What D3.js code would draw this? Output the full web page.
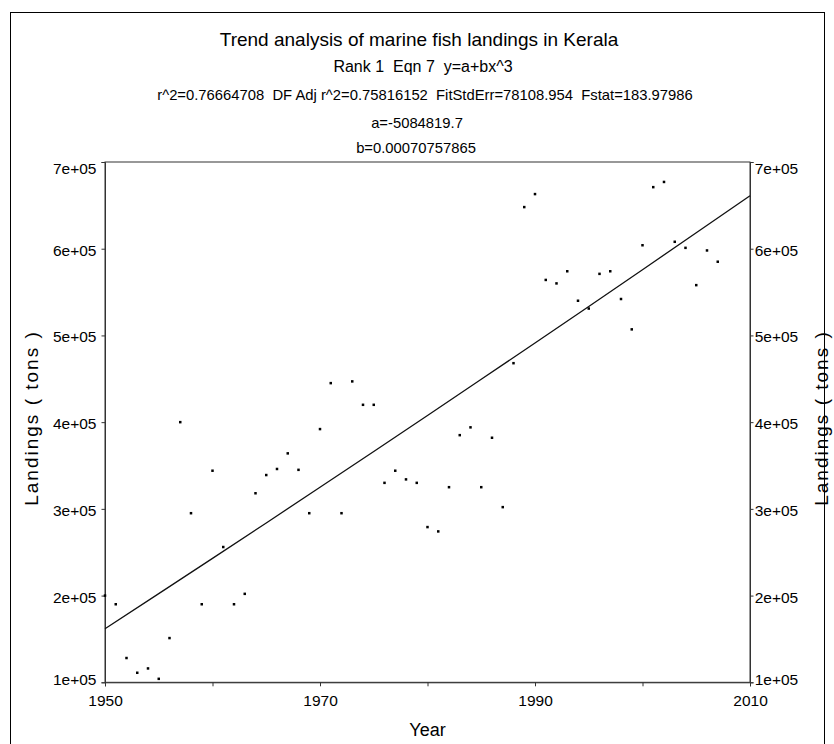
<!DOCTYPE html>
<html>
<head>
<meta charset="utf-8">
<script src="https://cdn.jsdelivr.net/npm/d3@7"></script>
<style>
  html, body { margin: 0; padding: 0; background: #fff; }
  svg { display: block; font-family: "Liberation Sans", Arial, sans-serif; }
  svg text { white-space: pre; }
</style>
</head>
<body>
<svg id="chart" width="834" height="744"></svg>
<script>
// ---------- data ----------
const years = [1950,1951,1952,1953,1954,1955,1956,1957,1958,1959,
               1960,1961,1962,1963,1964,1965,1966,1967,1968,1969,
               1970,1971,1972,1973,1974,1975,1976,1977,1978,1979,
               1980,1981,1982,1983,1984,1985,1986,1987,1988,1989,
               1990,1991,1992,1993,1994,1995,1996,1997,1998,1999,
               2000,2001,2002,2003,2004,2005,2006,2007];
const landings = [200000,190000,128000,111000,116000,104000,151000,400000,295000,190000,
                  344000,256000,190000,202000,318000,339000,346000,364000,345000,295000,
                  392000,445000,295000,447000,420000,420000,330000,344000,334000,330000,
                  279000,274000,325000,385000,394000,325000,382000,302000,468000,648000,
                  663000,564000,560000,574000,540000,531000,571000,574000,542000,507000,
                  604000,671000,677000,608000,601000,558000,598000,585000];
// fitted model y = a + b*x^3 (parameters shown in the subtitle)
const fitA = -5084819.7;
const fitB = 0.00070757865;
const fitYears = [1950,1955,1960,1965,1970,1975,1980,1985,1990,1995,2000,2005,2010];

const xTicks = [1950,1960,1970,1980,1990,2000,2010];
const xTickLabels = {1950:"1950",1970:"1970",1990:"1990",2010:"2010"};
const yTicks = [100000,200000,300000,400000,500000,600000,700000];
const yTickLabels = ["1e+05","2e+05","3e+05","4e+05","5e+05","6e+05","7e+05"];

const titleLines = [
  "Trend analysis of marine fish landings in Kerala",
  "Rank 1  Eqn 7  y=a+bx^3",
  "r^2=0.76664708  DF Adj r^2=0.75816152  FitStdErr=78108.954  Fstat=183.97986",
  "a=-5084819.7",
  "b=0.00070757865"
];
const xLabel = "Year";
const yLabel = "Landings ( tons )";

// ---------- layout ----------
const svg = d3.select("#chart");
const plot = {left: 105, right: 750, top: 162, bottom: 682.3};

const x = d3.scaleLinear().domain([1950, 2010]).range([plot.left, plot.right]);
const y = d3.scaleLinear().domain([100000, 700000]).range([plot.bottom, plot.top]);

// outer frame
svg.append("rect")
  .attr("x", 10.5).attr("y", 12.5)
  .attr("width", 814).attr("height", 760)
  .attr("fill", "none").attr("stroke", "#000").attr("stroke-width", 1);

// titles
const titleSpec = [
  {size: 19,   x: 419, y: 45.7},
  {size: 16,   x: 423, y: 72.3},
  {size: 14.8, x: 425, y: 100},
  {size: 14.8, x: 417, y: 128.3},
  {size: 14.8, x: 416, y: 153.3}
];
titleLines.forEach((t, i) => {
  svg.append("text")
    .attr("x", titleSpec[i].x).attr("y", titleSpec[i].y)
    .attr("text-anchor", "middle")
    .attr("font-size", titleSpec[i].size)
    .attr("fill", "#000")
    .attr("xml:space", "preserve")
    .text(t);
});

// plot box
svg.append("rect")
  .attr("x", plot.left).attr("y", plot.top)
  .attr("width", plot.right - plot.left).attr("height", plot.bottom - plot.top)
  .attr("fill", "none").attr("stroke", "#333").attr("stroke-width", 1);

const fontTick = 15.5;

// left axis
const yAxisL = d3.axisLeft(y).tickValues(yTicks)
  .tickFormat((d, i) => yTickLabels[i]).tickSize(3.5).tickPadding(5);
const gL = svg.append("g").attr("transform", `translate(${plot.left},0)`).call(yAxisL);
// right axis
const yAxisR = d3.axisRight(y).tickValues(yTicks)
  .tickFormat((d, i) => yTickLabels[i]).tickSize(3.5).tickPadding(1.2);
const gR = svg.append("g").attr("transform", `translate(${plot.right},0)`).call(yAxisR);
// bottom axis
const xAxis = d3.axisBottom(x).tickValues(xTicks)
  .tickFormat(d => xTickLabels[d] || "").tickSize(4).tickPadding(8.5);
const gB = svg.append("g").attr("transform", `translate(0,${plot.bottom})`).call(xAxis);

[gL, gR, gB].forEach(g => {
  g.select(".domain").attr("stroke", "#333");
  g.selectAll(".tick line").attr("stroke", "#333");
  g.selectAll(".tick text")
    .attr("font-family", "Liberation Sans, Arial, sans-serif")
    .attr("font-size", fontTick).attr("fill", "#000");
});
[gL, gR].forEach(g => {
  g.selectAll(".tick text").attr("dy", d => d === 700000 ? "0.75em" : (d === 100000 ? "0.15em" : "0.42em"));
});

// axis titles
svg.append("text")
  .attr("x", (plot.left + plot.right) / 2).attr("y", 736)
  .attr("text-anchor", "middle").attr("font-size", 18).attr("fill", "#000")
  .text(xLabel);
svg.append("text")
  .attr("transform", `translate(38,418) rotate(-90)`)
  .attr("text-anchor", "middle").attr("font-size", 19).attr("letter-spacing", 2)
  .attr("fill", "#000")
  .text(yLabel);
svg.append("text")
  .attr("transform", `translate(828,418) rotate(-90)`)
  .attr("text-anchor", "middle").attr("font-size", 19).attr("letter-spacing", 2)
  .attr("fill", "#000")
  .text(yLabel);

// fitted curve
const fitLine = d3.line()
  .x(d => x(d))
  .y(d => y(fitA + fitB * d * d * d));
svg.append("path")
  .datum(fitYears)
  .attr("d", fitLine)
  .attr("fill", "none").attr("stroke", "#111").attr("stroke-width", 1.3);

// data points
const pts = years.map((yr, i) => ({yr, v: landings[i]}));
svg.append("g").selectAll("rect")
  .data(pts).enter().append("rect")
  .attr("x", d => x(d.yr) - 1.25)
  .attr("y", d => y(d.v) - 1.25)
  .attr("width", 2.5).attr("height", 2.5)
  .attr("fill", "#000");
</script>
</body>
</html>
